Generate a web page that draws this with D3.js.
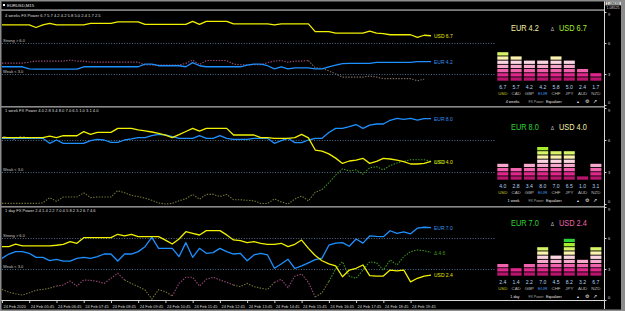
<!DOCTYPE html>
<html>
<head>
<meta charset="utf-8">
<script src="https://cdn.jsdelivr.net/npm/d3@7"></script>
<style>
html, body { margin: 0; padding: 0; background: #000; overflow: hidden; }
svg { display: block; font-family: Arial, "Liberation Sans", sans-serif; }
</style>
</head>
<body>
<svg id="chart" width="625" height="311"></svg>
<script>
// ---- data ----
var currencies = ["USD", "CAD", "GBP", "EUR", "CHF", "JPY", "AUD", "NZD"];
var periods = ["4 weeks", "1 week", "1 day"];

var power4w = [6.7, 5.7, 4.2, 4.2, 5.8, 5.0, 2.4, 1.7];
var power1w = [4.0, 2.8, 3.4, 8.0, 7.0, 6.5, 1.0, 3.1];
var power1d = [2.4, 1.4, 2.2, 7.0, 4.5, 8.2, 3.2, 6.7];
var deltas = [2.5, 4.0, 4.6];

var usd4w = [7.75,7.75,7.75,7.75,7.75,7.5,7.75,7.9,7.75,7.75,7.75,7.75,7.75,7.9,7.9,7.9,7.9,8.05,8.05,8.05,8.05,
  7.8,7.8,7.8,7.8,7.8,7.8,7.8,8.1,7.8,8.1,8.1,8.1,8.1,7.85,7.85,7.85,7.85,7.85,7.85,7.75,7.85,7.85,7.85,7.85,7.85,
  7.1,7.1,7.1,6.95,6.95,6.95,6.95,6.95,7.15,6.95,6.9,6.8,6.8,6.8,6.8,6.55,6.75,6.7];
var eur4w = [3.7,3.7,3.7,3.7,3.5,3.48,3.48,3.48,3.48,3.48,3.48,3.48,3.7,3.7,3.7,3.7,3.7,3.7,3.7,3.7,3.7,
  3.95,3.95,3.8,3.8,3.8,3.8,3.7,4.1,3.8,3.7,3.7,3.7,3.7,3.7,3.7,3.85,3.95,3.95,3.8,3.5,3.7,3.5,3.6,3.6,3.6,
  3.5,3.5,3.7,3.85,4.0,4.03,4.03,4.03,4.03,4.12,4.12,4.12,4.12,4.12,4.12,4.2,4.2,4.2];
var gap4w = [4.05,4.05,4.05,4.05,4.15,4.25,4.25,4.25,4.25,4.25,4.35,4.25,4.25,4.15,4.15,4.15,4.15,4.15,4.15,4.15,4.15,
  3.87,3.87,3.87,3.87,3.87,3.87,4.03,4.35,3.9,4.3,4.3,4.3,4.3,3.95,3.9,3.9,3.9,3.9,4.1,4.25,4.3,4.15,4.25,4.25,4.3,
  3.6,3.55,3.3,3.0,2.7,2.7,2.7,2.7,2.8,2.7,2.55,2.55,2.55,2.55,2.55,2.35,2.5,2.5];

var usd1w = [6.22,6.22,6.22,6.22,6.22,6.22,6.22,6.37,6.22,6.4,6.4,6.4,6.78,6.53,6.72,6.72,6.72,7.09,7.09,7.09,6.94,
  6.85,6.75,6.63,6.45,6.22,6.5,6.8,7.09,6.84,7.09,7.09,7.09,7.09,6.47,6.47,6.47,6.47,6.22,6.22,6.16,6.16,6.16,6.22,
  6.53,6.2,5.06,4.95,4.7,4.3,3.8,4.03,4.12,4.28,3.81,4.0,4.28,4.22,4.12,3.97,3.75,3.75,3.81,4.0];
var eur1w = [6.16,6.16,6.16,6.16,6.16,6.16,6.16,5.69,6.0,5.69,5.69,5.69,5.69,5.94,6.06,6.0,5.78,5.78,6.0,6.1,6.22,
  6.22,6.4,6.53,6.47,6.31,6.16,6.16,6.16,6.4,6.16,6.16,6.4,6.16,6.06,6.06,6.06,6.16,6.16,6.16,5.69,5.94,6.16,5.75,
  5.75,6.0,6.16,6.16,6.7,7.09,7.09,7.25,7.45,7.09,7.4,7.5,7.5,7.85,8.03,7.94,8.03,7.87,8.0,8.0];
var gap1w = [0.06,0.06,0.06,0.06,0.06,0.06,0.1,0.6,0.25,0.65,0.65,0.65,1.05,0.6,0.65,0.65,0.65,1.25,1.05,0.8,0.7,
  0.55,0.35,0.1,0.0,0.05,0.3,0.5,0.9,0.45,0.9,0.9,0.7,0.9,0.4,0.4,0.35,0.3,0.05,0.05,0.47,0.2,0.0,0.47,
  0.75,0.3,1.1,1.35,2.0,2.7,3.3,3.1,3.2,2.8,3.4,3.5,3.2,3.6,3.85,4.0,4.15,4.15,4.15,4.0];

var usd1d = [5.16,5.16,5.4,5.23,5.23,5.23,5.23,5.23,5.3,5.39,5.65,5.49,6.03,6.03,6.03,6.03,6.03,6.36,6.2,6.36,6.13,
  6.13,6.13,6.13,5.8,5.42,5.9,6.61,6.45,6.29,6.71,6.71,6.71,6.3,5.81,5.74,5.55,5.65,5.49,5.39,5.39,5.49,5.16,5.39,
  5.8,5.0,4.3,3.8,3.5,3.3,2.25,2.9,3.07,3.39,2.35,2.32,2.32,2.9,2.81,2.9,1.75,2.1,2.32,2.4];
var eur1d = [4.03,4.45,4.68,4.68,4.52,4.13,4.13,3.81,3.94,3.77,3.77,4.03,4.13,4.03,4.2,4.45,4.45,3.77,4.45,4.45,4.68,
  5.16,6.06,5.0,5.0,5.0,4.2,5.55,4.13,5.0,4.52,4.58,5.0,4.68,4.45,4.52,3.8,4.36,4.52,4.36,3.07,3.48,3.94,3.05,
  3.3,3.6,3.9,4.05,5.3,5.5,5.55,5.2,5.9,5.5,6.2,6.15,6.13,6.7,6.45,6.6,6.4,6.95,7.04,7.0];
var gap1d = [1.03,0.75,0.6,0.48,0.7,0.95,1.03,1.15,1.35,1.45,1.84,1.35,1.94,1.9,1.8,1.6,2.1,2.58,1.94,1.6,1.3,
  0.97,0.1,1.0,0.8,0.4,1.6,2.2,2.2,1.35,2.0,2.2,1.94,1.7,1.45,1.29,1.61,1.29,1.15,1.03,1.7,2.0,1.2,2.3,
  2.52,1.7,0.3,0.7,1.8,3.0,3.7,2.3,2.1,2.9,3.7,3.6,2.9,3.87,3.39,4.19,4.68,4.84,4.77,4.6];

// tone of the gap line per bar: p = pink, x = grey, o = olive, e = green
var tone4w = "ppppppppppppppppppppppppppppppppppppppppppppppxxxxxxxxxxxxxxxxx".split("");
var tone1w = "ooooooooooooooooooooooooooooooooooooooooooooooooeeeeeeeeeeeeeeee".split("");
var tone1d = "oooooooooppppppppppooooooopppppppppooooooppppppooeeeeeeeeeeeeeeee".split("");

var timeTicks = [0, 4, 8, 12, 16, 20, 24, 28, 32, 36, 40, 44, 48, 52, 56, 60];
var timeLabels = ["24 Feb 2020", "24 Feb 05:45", "24 Feb 06:45", "24 Feb 07:45", "24 Feb 08:45", "24 Feb 09:45",
  "24 Feb 10:45", "24 Feb 11:45", "24 Feb 12:45", "24 Feb 13:45", "24 Feb 14:45", "24 Feb 15:45",
  "24 Feb 16:45", "24 Feb 17:45", "24 Feb 18:45", "24 Feb 19:45"];

// ---- layout ----
var svg = d3.select("#chart");
var W = 625, H = 311, axisX = 604.5;

var panels = [
  {usd: usd4w, eur: eur4w, gap: gap4w, tone: tone4w, power: power4w, delta: deltas[0], period: periods[0],
   y0: 105, y9: 12, base: 81, head: 31, title: 16.5},
  {usd: usd1w, eur: eur1w, gap: gap1w, tone: tone1w, power: power1w, delta: deltas[1], period: periods[1],
   y0: 204, y9: 108, base: 180, head: 130, title: 112},
  {usd: usd1d, eur: eur1d, gap: gap1d, tone: tone1d, power: power1d, delta: deltas[2], period: periods[2],
   y0: 300, y9: 207, base: 276, head: 226, title: 212}
];

var toneColor = {p: "#9a4a7a", x: "#7c6a5e", o: "#77773a", e: "#3f9a1e"};
var segColor = ["#b8146e", "#e0288c", "#f062ac", "#f8a8cc", "#fbd6e2", "#fbf2ae", "#d6f466", "#a6ec2c", "#2ed236"];
var nameColor = {USD: "#c8c820", EUR: "#3a92f0"};

var x = d3.scaleLinear().domain([0, usd4w.length - 1]).range([2, 431]);
var eqX = d3.scaleBand().domain(currencies).range([497.3, 601.4]).paddingInner(0.17).paddingOuter(0);

function txt(g, px, py, s, size, fill, anchor, sx) {
  sx = sx || 1;
  return g.append("text")
    .attr("transform", "translate(" + px + "," + py + ") scale(" + sx + ",1)")
    .attr("font-size", size)
    .attr("fill", fill)
    .attr("text-anchor", anchor || "start")
    .text(s);
}

function headColor(v) {
  if (v >= 7) return "#2ed236";
  if (v >= 6) return "#a6ec2c";
  if (v >= 3) return "#f4eea8";
  return "#f062ac";
}

svg.append("rect").attr("width", W).attr("height", H).attr("fill", "#000");

// ---- top bar ----
svg.append("rect").attr("x", 3).attr("y", 4).attr("width", 2).attr("height", 2).attr("fill", "#fff");
txt(svg, 7, 6.6, "EURUSD,M15", 4.2, "#e0e0e0");

function drawPanel(p) {
  var y = d3.scaleLinear().domain([0, 9]).range([p.y0, p.y9]);
  var g = svg.append("g");

  // strong / weak levels
  var levels = [{v: 6, t: "Strong > 6.0"}, {v: 3, t: "Weak < 3.0"}];
  g.selectAll("line.lvl").data(levels).join("line")
    .attr("x1", 2).attr("x2", 496)
    .attr("y1", function(d) { return Math.round(y(d.v)) + 0.5; })
    .attr("y2", function(d) { return Math.round(y(d.v)) + 0.5; })
    .attr("stroke", "#5f8ab0").attr("stroke-width", 0.8).attr("stroke-dasharray", "1,1.6");
  levels.forEach(function(d) { txt(g, 3, Math.round(y(d.v)) - 1, d.t, 4, "#c8c8c8"); });

  // title
  txt(g, 5, p.title, p.period + " FX Power " + p.power.concat([p.delta]).map(function(v) { return v.toFixed(1); }).join(" "),
      4.1, "#dcdcdc");

  var line = d3.line().x(function(d) { return x(d.i); }).y(function(d) { return y(d.v); });

  // gap line, split into runs of equal tone
  var runs = [];
  for (var i = 1; i < p.gap.length; i++) {
    var t = p.tone[i];
    if (!runs.length || runs[runs.length - 1].t !== t) runs.push({t: t, pts: [{i: i - 1, v: p.gap[i - 1]}]});
    runs[runs.length - 1].pts.push({i: i, v: p.gap[i]});
  }
  g.selectAll("path.gap").data(runs).join("path")
    .attr("d", function(d) { return line(d.pts); })
    .attr("fill", "none")
    .attr("stroke", function(d) { return toneColor[d.t]; })
    .attr("stroke-width", 1.1)
    .attr("stroke-dasharray", "1.4,1.4");

  var series = [
    {vals: p.eur, color: "#1e90ff", label: "EUR " + p.power[3].toFixed(1)},
    {vals: p.usd, color: "#f0f000", label: "USD " + p.power[0].toFixed(1)}
  ];
  g.selectAll("path.ser").data(series).join("path")
    .attr("d", function(d) { return line(d.vals.map(function(v, i) { return {i: i, v: v}; })); })
    .attr("fill", "none")
    .attr("stroke", function(d) { return d.color; })
    .attr("stroke-width", 1.3)
    .attr("stroke-linejoin", "round");

  // end labels
  var last = p.gap.length - 1;
  txt(g, 434, y(p.gap[last]) + 2.2, "\u0394 " + p.delta.toFixed(1), 6.2, toneColor[p.tone[last]], "start", 0.8);
  series.forEach(function(d) {
    txt(g, 434, y(d.vals[last]) + 2.2, d.label, 6.2, d.color === "#1e90ff" ? "#3a92f0" : "#e8e800", "start", 0.8);
  });

  // right scale
  var ax = g.append("g").attr("transform", "translate(" + axisX + ",0)")
    .call(d3.axisRight(y).tickValues([0, 3, 6, 9]).tickSize(2).tickPadding(1.5));
  ax.select(".domain").remove();
  ax.selectAll("line").attr("stroke", "#cfcfcf");
  ax.selectAll("text").attr("font-size", 4).attr("fill", "#d8d8d8")
    .attr("font-family", "Arial, 'Liberation Sans', sans-serif")
    .attr("dy", function(d) { return d === 0 ? "-0.4em" : d === 9 ? "0.9em" : "0.32em"; });

  // header
  var eurV = p.power[3], usdV = p.power[0];
  txt(g, 511, p.head, "EUR " + eurV.toFixed(1), 9, headColor(eurV), "start", 0.82);
  txt(g, 552.5, p.head - 0.5, "\u0394", 5, "#bdbdbd", "middle");
  txt(g, 559, p.head, "USD " + usdV.toFixed(1), 9, headColor(usdV), "start", 0.82);

  // equalizer
  var cells = [];
  p.power.forEach(function(v, c) {
    var n = Math.ceil(v - 1e-9);
    for (var k = 1; k <= n; k++) cells.push({c: currencies[c], k: k});
  });
  g.selectAll("rect.cell").data(cells).join("rect")
    .attr("x", function(d) { return eqX(d.c); })
    .attr("y", function(d) { return p.base - d.k * 4.2 + 0.6; })
    .attr("width", eqX.bandwidth())
    .attr("height", 3.3)
    .attr("fill", function(d) { return segColor[d.k - 1]; });

  currencies.forEach(function(c, ci) {
    var cx = eqX(c) + eqX.bandwidth() / 2;
    txt(g, cx, p.base + 7.6, p.power[ci].toFixed(1), 6, "#b4d2f0", "middle", 0.85);
    txt(g, cx, p.base + 14.2, c, 4.4, nameColor[c] || "#b8b8b8", "middle");
  });
  txt(g, 519.5, p.base + 21.5, p.period, 4.2, "#e8e8e8", "end", 0.9);
  txt(g, 528.5, p.base + 21.5, "FX Power", 4.2, "#a8a8a8", "start", 0.82);
  txt(g, 546, p.base + 21.5, "Equalizer", 4.2, "#e8e8e8", "start", 0.9);
  txt(g, 578, p.base + 21.5, "\u25B4", 4.4, "#e8e8e8", "middle");
  txt(g, 586.5, p.base + 21.8, "\u2699", 5, "#e8e8e8", "middle");
  txt(g, 595, p.base + 21.5, "\u2197", 4.6, "#e8e8e8", "middle");
}

panels.forEach(drawPanel);

// ---- separators and frame ----
[9.3, 106, 206].forEach(function(yy) {
  svg.append("rect").attr("x", 0).attr("y", yy).attr("width", axisX).attr("height", 1.6).attr("fill", "#8a8a8a");
});
svg.append("line").attr("x1", axisX).attr("x2", axisX).attr("y1", 0).attr("y2", 309)
  .attr("stroke", "#d8d8d8").attr("stroke-width", 1);

// price boxes on the main chart scale
svg.append("rect").attr("x", 605.5).attr("y", 1.3).attr("width", 15.5).attr("height", 4).attr("fill", "#d9d9d9");
txt(svg, 613, 4.6, "1.08633", 3.6, "#000", "middle");
txt(svg, 613, 9, "1.08525", 3.6, "#d8d8d8", "middle");

// ---- time axis ----
var tAx = svg.append("g").attr("transform", "translate(0,300.5)")
  .call(d3.axisBottom(x).tickValues(timeTicks).tickFormat(function(d, i) { return timeLabels[i]; })
    .tickSize(2.5).tickPadding(2));
tAx.select(".domain").remove();
tAx.selectAll("line").attr("stroke", "#d0d0d0");
tAx.selectAll("text").attr("text-anchor", "start").attr("dx", 1).attr("font-size", 4)
  .attr("fill", "#d8d8d8").attr("font-family", "Arial, 'Liberation Sans', sans-serif");
svg.append("line").attr("x1", 0).attr("x2", axisX).attr("y1", 300.5).attr("y2", 300.5)
  .attr("stroke", "#d8d8d8").attr("stroke-width", 1);

svg.append("rect").attr("x", 0.75).attr("y", 0.75).attr("width", W - 1.5).attr("height", H - 1.5)
  .attr("fill", "none").attr("stroke", "#8c8c8c").attr("stroke-width", 1.5);
svg.append("rect").attr("x", 621).attr("y", 0).attr("width", 4).attr("height", H).attr("fill", "#8c8c8c");
</script>
</body>
</html>
